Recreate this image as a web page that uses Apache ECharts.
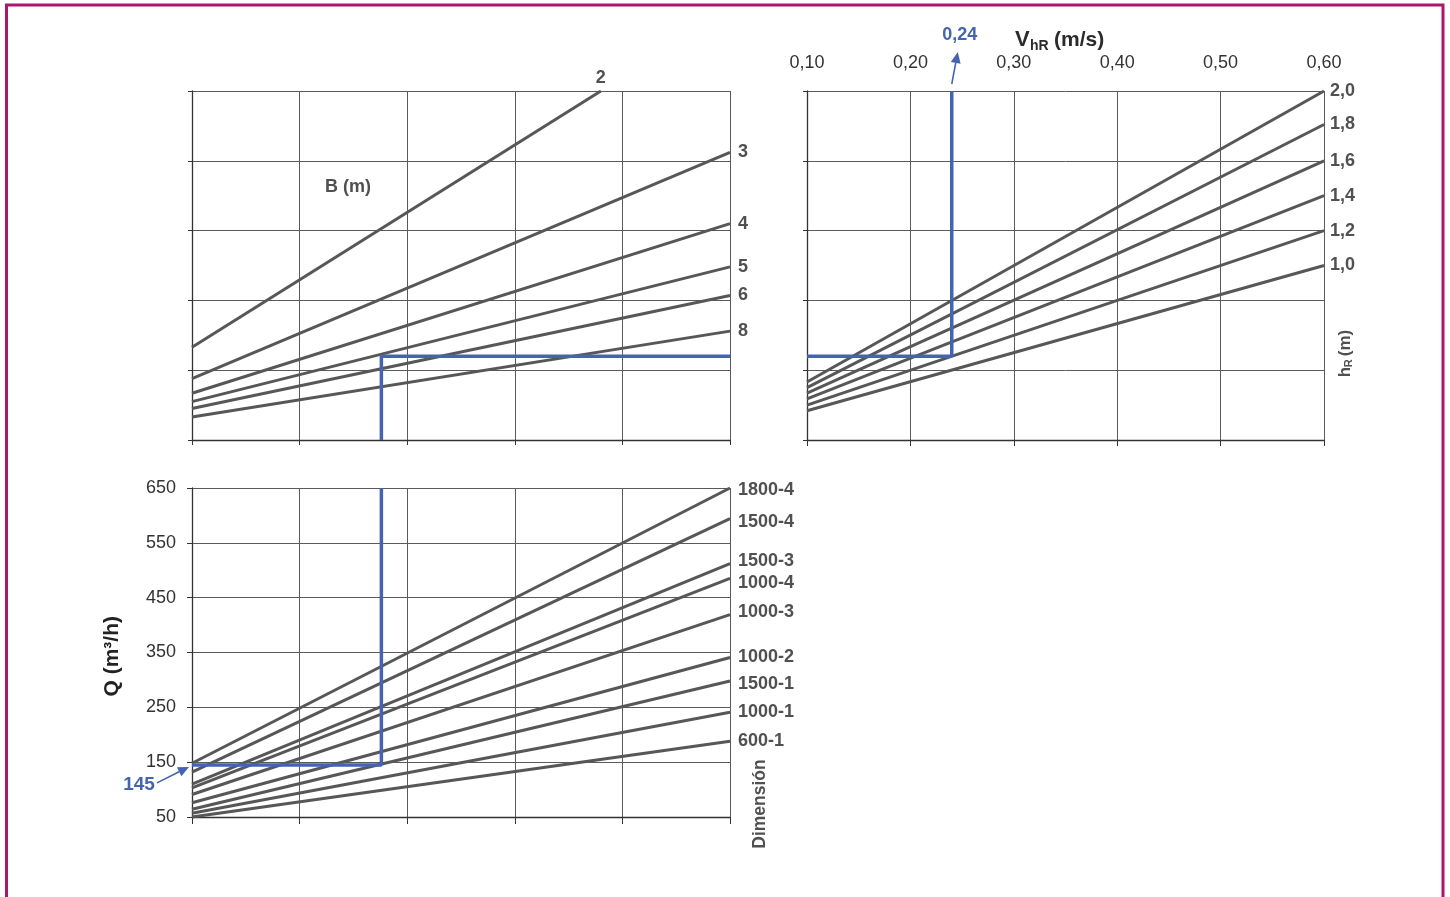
<!DOCTYPE html>
<html>
<head>
<meta charset="utf-8">
<title>Dimensionado de rejillas</title>
<script src="https://cdn.jsdelivr.net/npm/echarts@6/dist/echarts.min.js"></script>
<style>
  html, body { margin: 0; padding: 0; background: #ffffff; }
  #chart { width: 1450px; height: 897px; }
</style>
</head>
<body>
<div id="chart"></div>
<script>
// ---- Upper-left nomogram: one line per width B (m) ----
const bWidths = ['2', '3', '4', '5', '6', '8'];
const bStartY = [1.33, 0.88, 0.67, 0.55, 0.45, 0.33];   // at x = 0
const bEndX   = [3.8, 5, 5, 5, 5, 5];
const bEndY   = [5.0, 4.12, 3.10, 2.48, 2.07, 1.56];

// ---- Upper-right nomogram: velocity VhR (m/s) vs height hR (m) ----
const vTicks   = [0.10, 0.20, 0.30, 0.40, 0.50, 0.60];
const hrLabels = ['2,0', '1,8', '1,6', '1,4', '1,2', '1,0'];
const hrStartY = [0.83, 0.75, 0.67, 0.59, 0.50, 0.42];  // at V = 0,10
const hrEndY   = [5.0, 4.52, 4.0, 3.5, 3.0, 2.5];       // at V = 0,60

// ---- Lower nomogram: flow Q (m3/h) per dimension ----
const qTicks = [50, 150, 250, 350, 450, 550, 650];
const dims   = ['1800-4', '1500-4', '1500-3', '1000-4', '1000-3', '1000-2', '1500-1', '1000-1', '600-1'];
const qStart = [148, 132, 110, 103, 91, 76, 64, 57, 50];  // at x = 0
const qEnd   = [650, 594, 512, 485, 419, 341, 298, 241, 188]; // at x = 5

// ---- Worked example path ----
const vSel = 0.24;   // m/s
const qSel = 145;    // m3/h
const xSel = 1.76;
const ySel = 1.2;

const FONT = '"Liberation Sans", Arial, Helvetica, sans-serif';
const LINE_GREY = '#575757';
const BLUE = '#4463b0';
const GRID_GREY = '#5a5a5a';
const AXIS_DARK = '#333333';
const LABEL_GREY = '#505050';

const dimLabelNudge = { '1800-4': 2, '1500-4': 3, '1500-3': -3, '1000-4': 5, '1000-3': -3, '1500-1': 3 };

function endLabel(text, extra) {
  return Object.assign({
    show: true,
    formatter: () => text,
    distance: 8,
    color: LABEL_GREY,
    fontFamily: FONT,
    fontWeight: 'bold',
    fontSize: 18
  }, extra || {});
}

const splitLine = { show: true, lineStyle: { color: GRID_GREY, width: 1 } };
const axisLine = { show: true, onZero: false, lineStyle: { color: AXIS_DARK, width: 1.3 } };

const series = [];

bWidths.forEach((b, i) => {
  series.push({
    type: 'line', name: 'B ' + b, xAxisIndex: 0, yAxisIndex: 0,
    data: [[0, bStartY[i]], [bEndX[i], bEndY[i]]],
    symbol: 'none', clip: false, silent: true,
    lineStyle: { color: LINE_GREY, width: 3 },
    endLabel: i === 0
      ? endLabel(b, { distance: 0, align: 'center', offset: [0, -13] })
      : endLabel(b, { distance: 8 })
  });
});

hrLabels.forEach((h, i) => {
  series.push({
    type: 'line', name: 'hR ' + h, xAxisIndex: 1, yAxisIndex: 1,
    data: [[vTicks[0], hrStartY[i]], [vTicks[vTicks.length - 1], hrEndY[i]]],
    symbol: 'none', clip: false, silent: true,
    lineStyle: { color: LINE_GREY, width: 3 },
    endLabel: endLabel(h, { distance: 6 })
  });
});

dims.forEach((d, i) => {
  series.push({
    type: 'line', name: d, xAxisIndex: 3, yAxisIndex: 2,
    data: [[0, qStart[i]], [5, qEnd[i]]],
    symbol: 'none', clip: false, silent: true,
    lineStyle: { color: LINE_GREY, width: 3 },
    endLabel: endLabel(d, { distance: 8, offset: [0, dimLabelNudge[d] || 0] })
  });
});

// worked example, drawn over the families of lines
const blueStyle = { color: BLUE, width: 3.5 };
const blueTopLeft = series.length;
series.push({
  type: 'line', xAxisIndex: 0, yAxisIndex: 0, z: 5, symbol: 'none', clip: false, silent: true,
  data: [[xSel, 0], [xSel, ySel], [5, ySel]], lineStyle: blueStyle
});
const blueTopRight = series.length;
series.push({
  type: 'line', xAxisIndex: 1, yAxisIndex: 1, z: 5, symbol: 'none', clip: false, silent: true,
  data: [[vTicks[0], ySel], [vSel, ySel], [vSel, 5]], lineStyle: blueStyle
});
const blueBottom = series.length;
series.push({
  type: 'line', xAxisIndex: 3, yAxisIndex: 2, z: 5, symbol: 'none', clip: false, silent: true,
  data: [[0, qSel], [xSel, qSel], [xSel, qTicks[qTicks.length - 1]]], lineStyle: blueStyle
});

const option = {
  animation: false,
  backgroundColor: '#ffffff',
  textStyle: { fontFamily: FONT },
  grid: [
    { left: 192, top: 91, width: 538, height: 349 },
    { left: 807, top: 91, width: 517, height: 349 },
    { left: 192, top: 488, width: 538, height: 329 }
  ],
  xAxis: [
    { gridIndex: 0, type: 'value', min: 0, max: 5, interval: 1, position: 'bottom',
      axisLine, axisTick: { show: true, length: 5, lineStyle: { color: AXIS_DARK } },
      axisLabel: { show: false }, splitLine },
    { gridIndex: 1, type: 'value', min: 0.1, max: 0.6, interval: 0.1, position: 'bottom',
      axisLine, axisTick: { show: true, length: 6, lineStyle: { color: AXIS_DARK } },
      axisLabel: { show: false }, splitLine },
    { gridIndex: 1, type: 'value', min: 0.1, max: 0.6, interval: 0.1, position: 'top',
      axisLine: { show: false }, axisTick: { show: false }, splitLine: { show: false },
      axisLabel: { show: true, margin: 19, fontSize: 18, color: AXIS_DARK, fontFamily: FONT,
        formatter: v => v.toFixed(2).replace('.', ',') } },
    { gridIndex: 2, type: 'value', min: 0, max: 5, interval: 1, position: 'bottom',
      axisLine, axisTick: { show: true, length: 7, lineStyle: { color: AXIS_DARK } },
      axisLabel: { show: false }, splitLine }
  ],
  yAxis: [
    { gridIndex: 0, type: 'value', min: 0, max: 5, interval: 1,
      axisLine, axisTick: { show: true, length: 4, lineStyle: { color: AXIS_DARK } },
      axisLabel: { show: false }, splitLine },
    { gridIndex: 1, type: 'value', min: 0, max: 5, interval: 1,
      axisLine, axisTick: { show: true, length: 4, lineStyle: { color: AXIS_DARK } },
      axisLabel: { show: false }, splitLine },
    { gridIndex: 2, type: 'value', min: 50, max: 650, interval: 50,
      axisLine,
      axisTick: { show: true, length: 5, customValues: qTicks, lineStyle: { color: AXIS_DARK } },
      axisLabel: { show: true, customValues: qTicks, margin: 16, fontSize: 18, color: AXIS_DARK, fontFamily: FONT },
      splitLine }
  ],
  series
};

const chart = echarts.init(document.getElementById('chart'), null, { renderer: 'canvas' });
chart.setOption(option);

// ---- annotations placed from the axes' own pixel mapping ----
function arrow(x1, y1, x2, y2, color) {
  const ang = Math.atan2(y2 - y1, x2 - x1);
  const len = 11, half = 5;
  const bx = x2 - len * Math.cos(ang), by = y2 - len * Math.sin(ang);
  const nx = -Math.sin(ang), ny = Math.cos(ang);
  return [
    { type: 'line', shape: { x1, y1, x2: bx, y2: by }, style: { stroke: color, lineWidth: 1.6 }, silent: true },
    { type: 'polygon', shape: { points: [[x2, y2], [bx + nx * half, by + ny * half], [bx - nx * half, by - ny * half]] },
      style: { fill: color }, silent: true }
  ];
}

function txt(x, y, text, size, color, align, extra) {
  return Object.assign({
    type: 'text', x, y, silent: true,
    style: { text, fontSize: size, fontFamily: FONT, fontWeight: 'bold', fill: color,
      align: align || 'center', verticalAlign: 'middle' }
  }, extra || {});
}

const vTop = chart.convertToPixel({ seriesIndex: blueTopRight }, [vSel, 5]);
const qPt = chart.convertToPixel({ seriesIndex: blueBottom }, [0, qSel]);
const bLabelPt = chart.convertToPixel({ seriesIndex: blueTopLeft }, [1.45, 3.62]);
const hrAxisPt = chart.convertToPixel({ seriesIndex: blueTopRight }, [0.6, 1.2]);
const qAxisMid = chart.convertToPixel({ seriesIndex: blueBottom }, [0, 345]);
const dimPt = chart.convertToPixel({ seriesIndex: blueBottom }, [5, 50]);

const graphics = [];

// page frame
graphics.push({ type: 'rect', silent: true, shape: { x: 6.5, y: 5, width: 1436.5, height: 905 },
  style: { fill: null, stroke: '#ad1670', lineWidth: 3 } });

// B (m)
graphics.push(txt(bLabelPt[0], bLabelPt[1], 'B (m)', 18, LABEL_GREY));

// VhR (m/s)
graphics.push(txt(1015, 40, 'V', 22, '#2b2b2b', 'left'));
graphics.push(txt(1030, 46, 'hR', 14, '#2b2b2b', 'left'));
graphics.push(txt(1054, 40, '(m/s)', 21, '#2b2b2b', 'left'));

// hR (m), read bottom-to-top
graphics.push({ type: 'group', x: hrAxisPt[0] + 21, y: hrAxisPt[1] - 5, rotation: Math.PI / 2, silent: true,
  children: [
    txt(-26, 0, 'h', 17, LABEL_GREY, 'left'),
    txt(-16, 4, 'R', 11, LABEL_GREY, 'left'),
    txt(-5, 0, '(m)', 17, LABEL_GREY, 'left')
  ] });

// Q (m³/h)
graphics.push({ type: 'group', x: qAxisMid[0] - 80, y: qAxisMid[1] + 1, rotation: Math.PI / 2, silent: true,
  children: [ txt(0, 0, 'Q (m³/h)', 21, '#222222') ] });

// Dimensión
graphics.push({ type: 'group', x: dimPt[0] + 30, y: dimPt[1] - 13, rotation: Math.PI / 2, silent: true,
  children: [ txt(0, 0, 'Dimensión', 17.5, LABEL_GREY) ] });

// 0,24 call-out above the velocity scale
graphics.push(...arrow(vTop[0], vTop[1] - 7, vTop[0] + 6, vTop[1] - 39, BLUE));
graphics.push(txt(vTop[0] + 8, 35, '0,24', 18, BLUE));

// 145 call-out beside the flow scale
graphics.push(...arrow(qPt[0] - 35, qPt[1] + 18, qPt[0] - 3, qPt[1] + 2, BLUE));
graphics.push(txt(qPt[0] - 53, qPt[1] + 20, '145', 19, BLUE));

chart.setOption({ graphic: graphics });
</script>
</body>
</html>
